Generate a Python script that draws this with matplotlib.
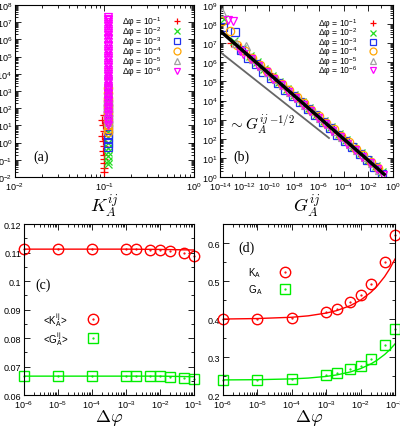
import matplotlib
matplotlib.use('Agg')
import matplotlib.pyplot as plt
from matplotlib.ticker import LogLocator, FixedLocator, MultipleLocator, FuncFormatter, NullFormatter
import numpy as np

plt.rcParams['font.family'] = ['Liberation Sans', 'DejaVu Sans']
plt.rcParams['mathtext.fontset'] = 'cm'

# ---- legend labels / colours ----
DPHI_LABELS = ['-1', '-2', '-3', '-4', '-5', '-6']
COLORS = ['#ff0000', '#22dd22', '#2233ee', '#ffa500', '#a0a0a0', '#ff00ff']
MARKERS = ['+', 'x', 's', 'o', '^', 'v']

# ---- panel (a): K_A^ij (x) vs log10 of y ----
A_RED_K = [0.098, 0.095, 0.097, 0.099, 0.094, 0.096, 0.098, 0.097, 0.099, 0.100, 0.100, 0.098, 0.100]
A_RED_Y = [1.6, 1.3, 1.0, 0.7, 0.4, 0.1, -0.2, -0.5, -0.7, -0.95, -1.2, -1.5, -1.7]
A_GREEN_Y = [1.2, 0.9, 0.6, 0.3, 0.0, -0.3, -0.55, -0.8, -1.05, -1.25]
A_BLUE_Y = [2.3, 2.0, 1.7, 1.4, 1.1, 0.8, 0.5, 0.25, 0.0, -0.25]
A_ORANGE_Y = [3.2, 2.9, 2.6, 2.4, 2.2, 2.0, 1.8, 1.6, 1.4, 1.2, 1.0, 0.8, 0.6]
A_GRAY_Y = [4.0, 3.6, 3.3, 3.0, 2.8, 2.6, 2.4, 2.2, 2.0, 1.8, 1.6, 1.4, 1.2]
A_MAGENTA_Y = [7.3, 7.2, 7.1, 7.0, 6.9, 6.75, 6.6, 6.5, 6.4, 6.25, 6.1, 6.0, 5.85, 5.7,
               5.6, 5.45, 5.3, 5.2, 5.05, 4.9, 4.8, 4.65, 4.5, 4.4, 4.25, 4.1, 4.0, 3.85,
               3.7, 3.6, 3.45, 3.3, 3.2, 3.05, 2.9, 2.8, 2.65, 2.5, 2.4, 2.25, 2.1, 1.95,
               1.8, 1.6, 1.4, 1.2, 1.0]
A_K_OTHER = 0.111

# ---- panel (b): log10 G_A^ij and log10 y ----
B_RED_G = [-13.1, -12.4, -11.8, -11.2, -10.6, -10.0, -9.4, -8.8, -8.2, -7.6, -7.0, -6.4,
           -5.8, -5.2, -4.6, -4.0, -3.4, -2.8, -2.2, -1.6, -1.0]
B_RED_Y = [7.0, 6.80, 6.45, 6.05, 5.75, 5.42, 5.03, 4.74, 4.35, 4.05, 3.72, 3.34, 3.05,
           2.66, 2.36, 2.02, 1.64, 1.34, 0.96, 0.66, 0.30]
B_GREEN_G = [-13.7, -12.9, -12.2, -11.6, -11.0, -10.4, -9.8, -9.2, -8.6, -8.0, -7.4, -6.8,
             -6.2, -5.6, -5.0, -4.4, -3.8, -3.2, -2.6, -2.0, -1.4, -0.9]
B_GREEN_Y = [8.27, 7.10, 6.68, 6.32, 6.00, 5.66, 5.30, 4.98, 4.63, 4.29, 3.95, 3.61, 3.27,
             2.93, 2.60, 2.26, 1.92, 1.58, 1.24, 0.90, 0.56, 0.27]
B_BLUE_G = [-13.75, -12.8, -12.3, -11.7, -11.1, -10.5, -9.9, -9.3, -8.7, -8.1, -7.5, -6.9,
            -6.3, -5.7, -5.1, -4.5, -3.9, -3.3, -2.7, -2.1, -1.5, -0.85]
B_BLUE_Y = [7.85, 7.6, 6.62, 6.25, 5.90, 5.48, 5.20, 4.90, 4.55, 4.25, 3.90, 3.55, 3.22,
            2.88, 2.55, 2.20, 1.87, 1.55, 1.20, 0.87, 0.52, 0.18]
B_ORANGE_G = [-13.85, -13.2, -12.6, -12.0, -11.4, -10.8, -10.2, -9.6, -9.0, -8.4, -7.8,
              -7.2, -6.6, -6.0, -5.4, -4.8, -4.2, -3.6, -3.0, -2.4, -1.8, -1.2]
B_ORANGE_Y = [8.16, 7.64, 6.92, 6.58, 6.22, 5.88, 5.55, 5.20, 4.87, 4.53, 4.19, 3.85, 3.51,
              3.17, 2.83, 2.49, 2.15, 1.81, 1.47, 1.14, 0.80, 0.46]
B_GRAY_G = [-13.85, -12.7, -11.9, -11.3, -10.7, -10.1, -9.5, -8.9, -8.3, -7.7, -7.1, -6.5,
            -5.9, -5.3, -4.7, -4.1, -3.5, -2.9, -2.3, -1.7, -1.1]
B_GRAY_Y = [8.63, 7.0, 6.85, 6.15, 5.82, 5.47, 5.13, 4.80, 4.45, 4.11, 3.77, 3.43, 3.09,
            2.75, 2.42, 2.08, 1.74, 1.40, 1.06, 0.72, 0.38]
B_MAGENTA_G = [-13.35, -12.95, -12.4, -12.1, -11.5, -10.9, -10.3, -9.7, -9.1, -8.5, -7.9,
               -7.3, -6.7, -6.1, -5.5, -4.9, -4.3, -3.7, -3.1, -2.5, -1.9, -1.3, -0.8]
B_MAGENTA_Y = [8.2, 8.16, 6.6, 6.45, 6.15, 5.80, 5.47, 5.12, 4.79, 4.45, 4.11, 3.77, 3.44,
               3.10, 2.76, 2.42, 2.08, 1.75, 1.41, 1.07, 0.73, 0.40, 0.12]
B_FIT_G = [1e-14, 0.19]
B_FIT_Y = [4.5e7, 1.4]
B_GUIDE_G = [1e-14, 6.6e-6]
B_GUIDE_Y = [3.5e6, 1.1e2]

# ---- panels (c), (d) ----
DPHI = [1e-6, 1e-5, 1e-4, 1e-3, 2e-3, 5e-3, 1e-2, 2e-2, 5e-2, 1e-1]
C_K = [0.1112, 0.1112, 0.1112, 0.1112, 0.1111, 0.1110, 0.1109, 0.1106, 0.1097, 0.1087]
C_G = [0.0667, 0.0667, 0.0667, 0.0667, 0.0667, 0.0667, 0.0666, 0.0665, 0.0660, 0.0657]
C_FIT_X = [1e-6, 1e-3, 1e-2, 1e-1]
C_FIT_K = [0.1112, 0.1112, 0.1111, 0.1109]
C_FIT_G = [0.0667, 0.0667, 0.0667, 0.0665]

D_K = [0.400, 0.400, 0.403, 0.419, 0.428, 0.445, 0.463, 0.493, 0.551, 0.622]
D_G = [0.240, 0.240, 0.243, 0.253, 0.258, 0.268, 0.278, 0.296, 0.331, 0.373]
D_FIT_X = [1e-6, 1e-5, 1e-4, 3e-4, 1e-3, 2e-3, 5e-3, 1e-2, 2e-2, 3e-2, 5e-2, 7e-2, 1e-1]
D_FIT_K = [0.4003, 0.4016, 0.405, 0.4087, 0.416, 0.4224, 0.4354, 0.450, 0.4707, 0.4866,
           0.5118, 0.5323, 0.558]
D_FIT_G = [0.2403, 0.2409, 0.243, 0.2452, 0.2495, 0.2534, 0.2612, 0.270, 0.2824, 0.292,
           0.3071, 0.3194, 0.3349]

TICK_FS = 6.5
RED_C = '#ff0000'
GREEN_C = '#00ee00'


def pow_fmt(v, pos):
    e = int(round(np.log10(v)))
    return r'$\mathregular{10^{%d}}$' % e


def style(ax):
    ax.tick_params(which='both', direction='in', top=True, right=True,
                   labelsize=TICK_FS, width=0.6, pad=2)
    ax.tick_params(which='major', length=4)
    ax.tick_params(which='minor', length=2)
    for s in ax.spines.values():
        s.set_linewidth(0.8)


def dphi_legend(ax, x_txt, x_mk, y0, dy):
    # legend of panels (a)/(b): text left, marker on the right
    for i in range(6):
        y = y0 - dy * i
        ax.text(x_txt, y, 'Δφ = ' + r'$\mathregular{10^{%s}}$' % DPHI_LABELS[i],
                transform=ax.transAxes, fontsize=6.2, va='center', ha='left')
        ax.plot([x_mk], [y], transform=ax.transAxes, ls='none', marker=MARKERS[i],
                color=COLORS[i], mfc='none', ms=5, mew=0.9, clip_on=False)


fig = plt.figure(figsize=(4.0, 4.27), dpi=100)

ax_a = fig.add_axes([0.037, 0.583, 0.448, 0.403])
ax_b = fig.add_axes([0.55, 0.583, 0.4325, 0.403])
ax_c = fig.add_axes([0.06, 0.072, 0.425, 0.401])
ax_d = fig.add_axes([0.5575, 0.072, 0.43, 0.401])

# ---------- (a) ----------
ax = ax_a
a_series = [
    (A_RED_K, A_RED_Y),
    ([A_K_OTHER] * len(A_GREEN_Y), A_GREEN_Y),
    ([A_K_OTHER] * len(A_BLUE_Y), A_BLUE_Y),
    ([A_K_OTHER] * len(A_ORANGE_Y), A_ORANGE_Y),
    ([A_K_OTHER] * len(A_GRAY_Y), A_GRAY_Y),
    ([A_K_OTHER] * len(A_MAGENTA_Y), A_MAGENTA_Y),
]
for i, (kx, ly) in enumerate(a_series):
    ax.plot(kx, 10.0 ** np.array(ly), ls='none', marker=MARKERS[i],
            color=COLORS[i], mfc='none', ms=6, mew=0.9)
ax.set_xscale('log')
ax.set_yscale('log')
ax.set_xlim(1e-2, 1)
ax.set_ylim(1e-2, 1e8)
ax.yaxis.set_major_locator(LogLocator(base=10, numticks=20))
ax.yaxis.set_minor_locator(LogLocator(base=10, subs=np.arange(2, 10), numticks=20))
ax.xaxis.set_major_formatter(FuncFormatter(pow_fmt))
ax.yaxis.set_major_formatter(FuncFormatter(pow_fmt))
style(ax)
dphi_legend(ax, 0.60, 0.905, 0.905, 0.058)
ax.text(0.105, 0.12, '(a)', transform=ax.transAxes, family='Liberation Serif',
        fontsize=10, va='center')
ax.set_xlabel(r'$K_A^{ij}$', fontsize=13, labelpad=0)

# ---------- (b) ----------
ax = ax_b
b_series = [(B_RED_G, B_RED_Y), (B_GREEN_G, B_GREEN_Y), (B_BLUE_G, B_BLUE_Y),
            (B_ORANGE_G, B_ORANGE_Y), (B_GRAY_G, B_GRAY_Y), (B_MAGENTA_G, B_MAGENTA_Y)]
for i, (lg, ly) in enumerate(b_series):
    ax.plot(10.0 ** np.array(lg), 10.0 ** np.array(ly), ls='none', marker=MARKERS[i],
            color=COLORS[i], mfc='none', ms=6, mew=0.9)
ax.plot(B_FIT_G, B_FIT_Y, color='black', lw=2.5)
ax.plot(B_GUIDE_G, B_GUIDE_Y, color='#666666', lw=1.3)
ax.set_xscale('log')
ax.set_yscale('log')
ax.set_xlim(1e-14, 1)
ax.set_ylim(1, 1e9)
ax.xaxis.set_major_locator(FixedLocator([10.0 ** e for e in range(-14, 1, 2)]))
ax.xaxis.set_minor_locator(FixedLocator([10.0 ** e for e in range(-13, 0, 2)]))
ax.xaxis.set_minor_formatter(NullFormatter())
ax.yaxis.set_major_locator(LogLocator(base=10, numticks=20))
ax.yaxis.set_minor_locator(LogLocator(base=10, subs=np.arange(2, 10), numticks=20))
ax.xaxis.set_major_formatter(FuncFormatter(pow_fmt))
ax.yaxis.set_major_formatter(FuncFormatter(pow_fmt))
style(ax)
dphi_legend(ax, 0.565, 0.884, 0.895, 0.055)
ax.text(0.075, 0.12, '(b)', transform=ax.transAxes, family='Liberation Serif',
        fontsize=10, va='center')
ax.text(0.045, 0.31, r'$\sim {G_A^{ij}}^{-1/2}$', transform=ax.transAxes, fontsize=11,
        va='center')
ax.set_xlabel(r'$G_A^{ij}$', fontsize=13, labelpad=0)


# ---------- (c), (d) ----------
def gnu_marker(ax, x, y, marker, color, ms, transform=None):
    kw = {} if transform is None else {'transform': transform}
    ax.plot(x, y, ls='none', marker=marker, color=color, mfc='none', ms=ms, mew=1.0,
            clip_on=False, **kw)
    ax.plot(x, y, ls='none', marker='.', color=color, ms=1.2, clip_on=False, **kw)


def dphi_axis(ax):
    ax.set_xscale('log')
    ax.set_xlim(1e-6, 1e-1)
    ax.xaxis.set_major_locator(LogLocator(base=10, numticks=10))
    ax.xaxis.set_minor_locator(LogLocator(base=10, subs=np.arange(2, 10), numticks=10))
    ax.xaxis.set_major_formatter(FuncFormatter(pow_fmt))
    ax.xaxis.set_minor_formatter(NullFormatter())
    ax.set_xlabel(r'$\Delta\varphi$', fontsize=13, labelpad=-2)
    style(ax)


def pair_legend(ax, labels, x_txt, x_mk, ys):
    for (lab, marker, color), y in zip(labels, ys):
        ax.text(x_txt, y, lab, transform=ax.transAxes, fontsize=7, va='center', ha='left')
        gnu_marker(ax, [x_mk], [y], marker, color, 7.5, transform=ax.transAxes)


ax = ax_c
ax.plot(C_FIT_X, C_FIT_K, color=RED_C, lw=1.0)
ax.plot(C_FIT_X, C_FIT_G, color=GREEN_C, lw=1.0)
gnu_marker(ax, DPHI, C_K, 'o', RED_C, 7.5)
gnu_marker(ax, DPHI, C_G, 's', GREEN_C, 7.5)
ax.set_ylim(0.06, 0.12)
ax.yaxis.set_major_locator(MultipleLocator(0.01))
ax.yaxis.set_minor_locator(MultipleLocator(0.005))
ax.yaxis.set_major_formatter(FuncFormatter(lambda v, p: '%g' % round(v, 3)))
dphi_axis(ax)
ax.text(0.065, 0.65, '(c)', transform=ax.transAxes, family='Liberation Serif',
        fontsize=10, va='center')
pair_legend(ax, [(r'<K$_\mathregular{A}^\mathregular{ij}$>', 'o', RED_C),
                 (r'<G$_\mathregular{A}^\mathregular{ij}$>', 's', GREEN_C)],
            0.11, 0.404, [0.444, 0.333])

ax = ax_d
ax.plot(D_FIT_X, D_FIT_K, color=RED_C, lw=1.0)
ax.plot(D_FIT_X, D_FIT_G, color=GREEN_C, lw=1.0)
gnu_marker(ax, DPHI, D_K, 'o', RED_C, 7.5)
gnu_marker(ax, DPHI, D_G, 's', GREEN_C, 7.5)
ax.set_ylim(0.2, 0.65)
ax.yaxis.set_major_locator(MultipleLocator(0.1))
ax.yaxis.set_minor_locator(MultipleLocator(0.05))
ax.yaxis.set_major_formatter(FuncFormatter(lambda v, p: '%g' % round(v, 3)))
dphi_axis(ax)
ax.text(0.087, 0.865, '(d)', transform=ax.transAxes, family='Liberation Serif',
        fontsize=10, va='center')
pair_legend(ax, [(r'K$_\mathregular{A}$', 'o', RED_C),
                 (r'G$_\mathregular{A}$', 's', GREEN_C)],
            0.145, 0.36, [0.72, 0.62])

fig.savefig('out.png', dpi=100)
